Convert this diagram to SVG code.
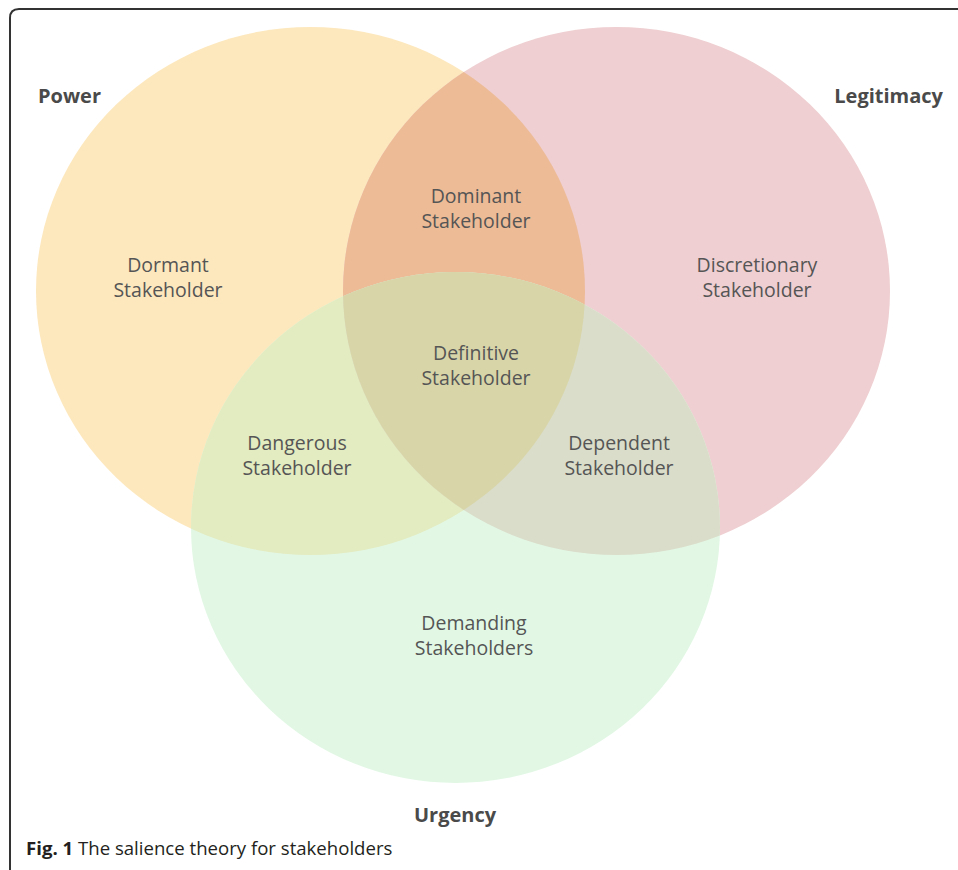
<svg xmlns="http://www.w3.org/2000/svg" width="958" height="870" viewBox="0 0 958 870">
  <style>
    .lbl { font-family: "Open Sans", "Noto Sans", "DejaVu Sans", sans-serif; font-size: 19.5px; fill: #555555; text-anchor: middle; }
    .set { font-family: "Open Sans", "Noto Sans", "DejaVu Sans", sans-serif; font-size: 20px; font-weight: bold; fill: #4a4a4a; }
    .cap { font-family: "Open Sans", "Noto Sans", "DejaVu Sans", sans-serif; font-size: 18.6px; fill: #231f20; }
  </style>
  <defs>
    <ellipse id="eP" cx="310.5" cy="291" rx="274.5" ry="264"/>
    <ellipse id="eL" cx="616.5" cy="291" rx="273.5" ry="264"/>
    <ellipse id="eU" cx="455.5" cy="527.5" rx="264.5" ry="255.5"/>
    <clipPath id="cP"><use href="#eP"/></clipPath>
    <clipPath id="cL"><use href="#eL"/></clipPath>
  </defs>
  <rect x="0" y="0" width="958" height="870" fill="#ffffff"/>
  <path d="M10,870 V18 Q10,9 19,9 H958" fill="none" stroke="#333333" stroke-width="2"/>
  <g id="power">
    <use href="#eP" fill="#FDE8BE"/>
    <text class="set" x="38" y="103">Power</text>
  </g>
  <g id="legitimacy">
    <use href="#eL" fill="#EFCFD1"/>
    <text class="set" x="943" y="103" text-anchor="end">Legitimacy</text>
  </g>
  <g id="urgency">
    <use href="#eU" fill="#E2F8E5"/>
    <text class="set" x="455" y="822" text-anchor="middle">Urgency</text>
  </g>
  <g id="power-legitimacy">
    <use href="#eL" fill="#EDBB96" clip-path="url(#cP)"/>
  </g>
  <g id="power-urgency">
    <use href="#eU" fill="#E3EBC0" clip-path="url(#cP)"/>
  </g>
  <g id="legitimacy-urgency">
    <use href="#eU" fill="#DADDCA" clip-path="url(#cL)"/>
  </g>
  <g id="all-three" clip-path="url(#cP)">
    <use href="#eU" fill="#D8D5A9" clip-path="url(#cL)"/>
  </g>
  <g id="labels">
    <g id="dormant"><text class="lbl" x="168" y="272">Dormant</text><text class="lbl" x="168" y="297">Stakeholder</text></g>
    <g id="dominant"><text class="lbl" x="476" y="203">Dominant</text><text class="lbl" x="476" y="228">Stakeholder</text></g>
    <g id="discretionary"><text class="lbl" x="757" y="272">Discretionary</text><text class="lbl" x="757" y="297">Stakeholder</text></g>
    <g id="definitive"><text class="lbl" x="476" y="360">Definitive</text><text class="lbl" x="476" y="385">Stakeholder</text></g>
    <g id="dangerous"><text class="lbl" x="297" y="450">Dangerous</text><text class="lbl" x="297" y="475">Stakeholder</text></g>
    <g id="dependent"><text class="lbl" x="619" y="450">Dependent</text><text class="lbl" x="619" y="475">Stakeholder</text></g>
    <g id="demanding"><text class="lbl" x="474" y="630">Demanding</text><text class="lbl" x="474" y="655">Stakeholders</text></g>
  </g>
  <g id="connectors"></g>
  <text class="cap" x="26" y="855"><tspan font-weight="bold">Fig. 1</tspan> The salience theory for stakeholders</text>
</svg>
